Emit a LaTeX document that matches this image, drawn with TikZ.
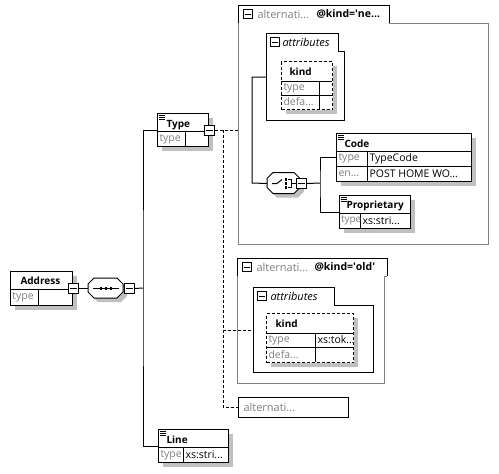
\documentclass[tikz,border=0pt]{standalone}
\usepackage{fontspec}
\setmainfont{Open Sans}
\usetikzlibrary{shadows}

\definecolor{shadecol}{RGB}{192,192,192}
\definecolor{dimtext}{RGB}{128,128,128}
\definecolor{framecol}{RGB}{128,128,128}

\tikzset{
  shady/.style={drop shadow={shadow xshift=4pt,shadow yshift=-4pt,fill=shadecol,opacity=1}},
  elem/.style={draw,fill=white,shady,anchor=north west,inner sep=0pt},
  attrel/.style={elem,dash pattern=on 3pt off 2pt},
  plain/.style={anchor=north west,inner sep=0pt},
  btn/.style={draw,fill=white,minimum size=10pt,inner sep=0pt},
  tabbtn/.style={draw,fill=white,minimum size=9pt,inner sep=0pt},
  lbl/.style={anchor=west,inner sep=0pt},
  elname/.style={lbl,font=\fontsize{10}{12}\selectfont\bfseries},
  tabkey/.style={lbl,font=\fontsize{10.5}{12}\selectfont\bfseries},
  tabname/.style={lbl,font=\fontsize{11}{12}\selectfont\itshape},
  dim/.style={lbl,text=dimtext},
}

\begin{document}
\begin{tikzpicture}[x=1pt,y=-1pt,line width=1pt,font=\fontsize{10.5}{12}\selectfont]
  \useasboundingbox (0,0) rectangle (499,474);

  % alternative @kind='new'
  \node[plain,minimum width=250pt,minimum height=239pt] (newalt) at (238,5) {};
  \draw[framecol] (389,23) -- (488,23) -- (488,244) -- (238,244) -- (238,23);
  \draw (238,23) -- (238,5) -- (389,5) -- (389,23);
  \node[tabbtn] (newaltbtn) at (247.5,14) {};
  \node[dim,font=\fontsize{11}{12}\selectfont] (newaltlbl) at (257,14) {alternati...};
  \node[tabkey] (newaltkey) at (316,14) {@kind=\textquotesingle ne...};

  \node[plain,minimum width=78pt,minimum height=87pt] (newattr) at (266,33) {};
  \draw (266,33) -- (338,33) -- (338,51) -- (344,51) -- (344,120) -- (266,120) -- cycle;
  \node[tabbtn] (newattrbtn) at (275,42) {};
  \node[tabname] (newattrlbl) at (282,42) {attributes};

  \node[attrel,minimum width=51pt,minimum height=48pt] (kindnew) at (281,61) {};
  \draw (281,81) -- (332,81);
  \draw (281,95) -- (332,95);
  \draw (319,81) -- (319,109);
  \node[elname] (kindnewlbl) at (289,72) {kind};
  \node[dim] (kindnewtype) at (283,88) {type};
  \node[dim] (kindnewdef) at (283,102) {defa...};

  % choice
  \node[plain,minimum width=33pt,minimum height=21pt] (choice) at (267,172.5) {};
  \draw[fill=white,shady] ([shift={(0,6)}]choice.north west) -- ++(6,-6) -- ++(21,0) -- ++(6,6)
    -- ++(0,9) -- ++(-6,6) -- ++(-21,0) -- ++(-6,-6) -- cycle;
  \draw ([xshift=-12pt]choice.center) -- ++(5,0) -- ++(5,-4);
  \foreach \d in {-4,0,4}
    \fill ([shift={(0.5,\d-1.2)}]choice.center) rectangle ++(2.4,2.4);
  \draw ([shift={(4,-4)}]choice.center) -- ++(3,0) -- ++(0,8) -- ++(-3,0);
  \draw ([shift={(7,0)}]choice.center) -- ++(5,0);
  \node[btn] (choicebtn) at (choice.east) {};

  \node[elem,minimum width=135pt,minimum height=48pt] (code) at (336,133) {};
  \draw (336,151) -- (471,151);
  \draw (336,166) -- (471,166);
  \draw (367,151) -- (367,181);
  \node[elname] (codelbl) at (344,144) {Code};
  \node[dim] (codetype) at (338,158.5) {type};
  \node[lbl] (codetypeval) at (369,158.5) {TypeCode};
  \node[dim] (codeenum) at (338,173.5) {en...};
  \node[lbl] (codeenumval) at (369,173.5) {POST HOME WO...};

  \node[elem,minimum width=71pt,minimum height=33pt] (prop) at (339,195) {};
  \draw (339,213) -- (410,213);
  \draw (360,213) -- (360,228);
  \node[elname] (proplbl) at (346,206) {Proprietary};
  \node[dim,font=\fontsize{10}{12}\selectfont] (proptype) at (340.5,220.5) {type};
  \node[lbl] (proptypeval) at (362,220.5) {xs:stri...};

  % alternative @kind='old'
  \node[plain,minimum width=150pt,minimum height=125pt] (oldalt) at (237,258) {};
  \draw[framecol] (387,276) -- (384,276) -- (384,383) -- (237,383) -- (237,276);
  \draw (237,276) -- (237,258) -- (387,258) -- (387,276);
  \node[tabbtn] (oldaltbtn) at (246.5,267) {};
  \node[dim,font=\fontsize{11}{12}\selectfont] (oldaltlbl) at (256,267) {alternati...};
  \node[tabkey] (oldaltkey) at (314,267) {@kind=\textquotesingle old\textquotesingle};

  \node[plain,minimum width=120pt,minimum height=85pt] (oldattr) at (253,287) {};
  \draw (253,287) -- (334,287) -- (334,305) -- (373,305) -- (373,372) -- (253,372) -- cycle;
  \node[tabbtn] (oldattrbtn) at (262,296) {};
  \node[tabname] (oldattrlbl) at (270,296) {attributes};

  \node[attrel,minimum width=87pt,minimum height=49pt] (kindold) at (266,313) {};
  \draw (266,333) -- (353,333);
  \draw (266,347) -- (353,347);
  \draw (315,333) -- (315,362);
  \node[elname] (kindoldlbl) at (275,324) {kind};
  \node[dim] (kindoldtype) at (268,340) {type};
  \node[lbl] (kindoldtypeval) at (317,340) {xs:tok...};
  \node[dim] (kindolddef) at (268,354.5) {defa...};

  % alternative without test
  \node[draw,fill=white,anchor=north west,inner sep=0pt,minimum width=110pt,minimum height=20pt] (altrest) at (238,397) {};
  \node[dim,font=\fontsize{11}{12}\selectfont] (altrestlbl) at (243,407) {alternati...};

  % elements
  \node[elem,minimum width=62pt,minimum height=34pt] (address) at (10,271) {};
  \draw (10,289) -- (72,289);
  \draw (38,289) -- (38,305);
  \node[elname] (addresslbl) at (20,281) {Address};
  \node[dim] (addresstype) at (12,297) {type};
  \node[btn] (addrbtn) at (address.east) {};

  \node[plain,minimum width=35pt,minimum height=20pt] (seq) at (88,278) {};
  \draw[fill=white,shady] ([shift={(0,6)}]seq.north west) -- ++(6,-6) -- ++(23,0) -- ++(6,6)
    -- ++(0,8) -- ++(-6,6) -- ++(-23,0) -- ++(-6,-6) -- cycle;
  \draw ([xshift=5pt]seq.west) -- ([xshift=-5pt]seq.east);
  \foreach \d in {-5,0,5}
    \fill ([shift={(\d-1.3,-1.3)}]seq.center) rectangle ++(2.6,2.6);
  \node[btn] (seqbtn) at ([xshift=5pt]seq.east) {};

  \node[elem,minimum width=51pt,minimum height=33pt] (type) at (157,113) {};
  \draw (157,131) -- (208,131);
  \draw (185,131) -- (185,146);
  \node[elname] (typelbl) at (166,125) {Type};
  \node[dim] (typetype) at (159,139) {type};
  \node[btn] (typebtn) at (type.east) {};

  \node[elem,minimum width=70pt,minimum height=33pt] (lineel) at (158,429) {};
  \draw (158,447) -- (228,447);
  \draw (183,447) -- (183,462);
  \node[elname] (lineellbl) at (166,440) {Line};
  \node[dim] (lineeltype) at (160,455) {type};
  \node[lbl] (lineeltypeval) at (185,455) {xs:stri...};

  % minus signs and menu marks
  \foreach \b in {addrbtn,seqbtn,typebtn,choicebtn,newaltbtn,newattrbtn,oldaltbtn,oldattrbtn}
    \draw[line width=0.8pt] ([xshift=2pt]\b.west) -- ([xshift=-2pt]\b.east);
  \foreach \b in {type,code,prop,lineel}
    \foreach \d in {2,4,6}
      \draw[line width=0.7pt] ([shift={(2,\d)}]\b.north west) -- ++(6,0);

  % connectors
  \coordinate (trunk) at (143,288);
  \coordinate (split) at (223,130);
  \coordinate (cjoin) at (252,183);
  \coordinate (cfork) at (320,183);
  \begin{scope}[-]
    \draw (addrbtn.east) -- (seq.west);
    \draw (seqbtn.east) -- (trunk);
    \draw (type.west) -| (trunk) |- (lineel.west);
    \draw (newattr.west) -| (cjoin) -- (choice.west);
    \draw (choicebtn.east) -- (cfork);
    \draw (code.west) -| (cfork) |- (prop.west);
  \end{scope}
  \begin{scope}[dash pattern=on 3pt off 2pt]
    \draw (typebtn.east) -- (typebtn.east -| newalt.west);
    \draw (split) |- (altrest.west);
    \draw (split |- oldattr.west) -- (oldattr.west);
  \end{scope}
\end{tikzpicture}
\end{document}
